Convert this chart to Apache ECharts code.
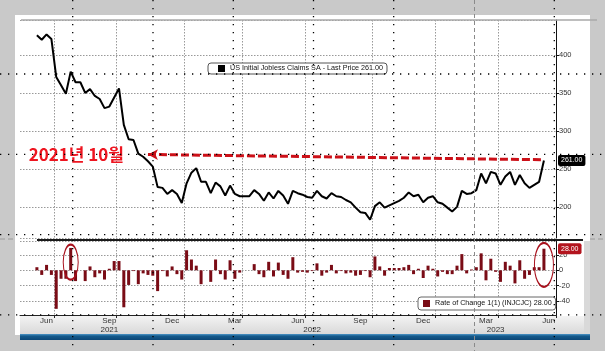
<!DOCTYPE html>
<html>
<head>
<meta charset="utf-8">
<script src="https://cdn.jsdelivr.net/npm/echarts@6/dist/echarts.min.js"></script>
<style>
  html, body { margin: 0; padding: 0; background: #c9c9c9; }
  #wrap { position: relative; width: 605px; height: 351px; }
  #panel { position: absolute; left: 15px; top: 15px; width: 575px; height: 320px; background: #fff; }
  #main { position: absolute; left: 0; top: 0; width: 605px; height: 351px; }
</style>
</head>
<body>
<div id="wrap">
  <div id="panel"></div>
  <div id="main"></div>
</div>
<script>
// US initial jobless claims SA (thousands), weekly, week ending 2021-05-29 .. 2023-06-03
const claims = [426, 420, 427, 421, 371, 360, 349, 378, 364, 364,
  350, 355, 346, 342, 330, 332, 344, 356, 308, 289,
  288, 270, 266, 260, 253, 226, 225, 217, 222, 217,
  205, 231, 245, 251, 233, 233, 218, 232, 227, 215,
  228, 217, 214, 214, 214, 222, 217, 208, 219, 211,
  221, 215, 204, 221, 218, 216, 213, 212, 221, 214,
  211, 218, 214, 213, 209, 206, 199, 193, 192, 183,
  201, 206, 199, 202, 205, 208, 212, 219, 214, 216,
  206, 212, 214, 206, 204, 199, 194, 200, 221, 217,
  218, 222, 244, 231, 246, 244, 229, 240, 246, 229,
  242, 231, 225, 229, 233, 261];

// Rate of Change 1(1): week-over-week change, same weeks
const weeklyChange = [4, -6, 7, -6, -50, -11, -11, 29, -14, 0,
  -14, 5, -9, -4, -12, 2, 12, 12, -48, -19,
  -1, -18, -4, -6, -7, -27, -1, -8, 5, -5,
  -12, 26, 14, 6, -18, 0, -15, 14, -5, -12,
  13, -11, -3, 0, 0, 8, -5, -9, 11, -8,
  10, -6, -11, 17, -3, -2, -3, -1, 9, -7,
  -3, 7, -4, -1, -4, -3, -7, -6, -1, -9,
  18, 5, -7, 3, 3, 3, 4, 7, -5, 2,
  -10, 6, 2, -8, -2, -5, -5, 6, 21, -4,
  1, 4, 22, -13, 15, -2, -15, 11, 6, -17,
  13, -11, -6, 4, 4, 28];

const monthLabelDates = ['2021-06-12', '2021-09-11', '2021-12-11', '2022-03-12', '2022-06-11',
  '2022-09-10', '2022-12-10', '2023-03-11', '2023-06-10'];
const monthLabels = ['Jun', 'Sep', 'Dec', 'Mar', 'Jun', 'Sep', 'Dec', 'Mar', 'Jun'];
const yearLabelDates = ['2021-09-11', '2022-07-02', '2023-03-25'];
const yearLabels = ['2021', '2022', '2023'];
const quarterLines = ['2021-06-26', '2021-09-25', '2022-01-01', '2022-03-26', '2022-06-25',
  '2022-10-01', '2022-12-31', '2023-04-01'];

// weekly category axis, with a few empty weeks on each side like the terminal chart
const weeks = [];
const firstWeek = Date.UTC(2021, 4, 8);
for (let i = 0; i < 111; i++) {
  weeks.push(new Date(firstWeek + i * 7 * 864e5).toISOString().slice(0, 10));
}
const pad = arr => [null, null, null].concat(arr, [null, null]);
const isIn = list => (i, v) => list.indexOf(v) >= 0;
const labelDates = monthLabelDates.concat(yearLabelDates);
const dateLabel = v => {
  const m = monthLabelDates.indexOf(v), y = yearLabelDates.indexOf(v);
  return (m >= 0 ? monthLabels[m] : '') + (y >= 0 ? '\n' + yearLabels[y] : '');
};

const font = 'Liberation Sans, Arial, sans-serif';
const dotted = () => ({ color: '#999', width: 1, type: [1.5, 1.5] });

// decoration lines of the screenshot (slide guides)
const guideX = [72.7, 153, 233.3, 313.5, 393.7, 554.3];
const guideY = [74, 154.3, 234.6, 314.9];
const guides = [];
guideX.forEach(x => guides.push({ type: 'line', z: 50, silent: true,
  shape: { x1: x, y1: 0, x2: x, y2: 351 }, style: { stroke: '#000', lineWidth: 1.3, lineDash: [1.3, 6.7] } }));
guideY.forEach(y => guides.push({ type: 'line', z: 50, silent: true,
  shape: { x1: 0, y1: y, x2: 605, y2: y }, style: { stroke: '#000', lineWidth: 1.3, lineDash: [1.3, 6.7] } }));

const yTick = { show: true, length: 3, lineStyle: { color: '#111' } };
const yLabel = { margin: 3, fontSize: 7.5, color: '#333', fontFamily: font, showMinLabel: false, showMaxLabel: false };
const pointer = (v, bg) => ({
  show: true, status: 'show', value: v, triggerTooltip: false,
  lineStyle: { opacity: 0 },
  label: { show: true, precision: 2, backgroundColor: bg, color: '#fff', fontSize: 7, fontFamily: font,
    padding: [2, 3], borderRadius: 2, margin: 2 }
});

const chart = echarts.init(document.getElementById('main'));

chart.setOption({
  animation: false,
  backgroundColor: 'transparent',
  graphic: [
    { type: 'line', z: -15, silent: true, shape: { x1: 0, y1: 239, x2: 15, y2: 239 },
      style: { stroke: '#9a9a9a', lineWidth: 1, lineDash: [5, 3] } },
    { type: 'line', z: -15, silent: true, shape: { x1: 590, y1: 239, x2: 605, y2: 239 },
      style: { stroke: '#9a9a9a', lineWidth: 1, lineDash: [5, 3] } },
    { type: 'rect', z: -9, silent: true, shape: { x: 20, y: 316, width: 570, height: 18 },
      style: { fill: new echarts.graphic.LinearGradient(0, 0, 0, 1, [
        { offset: 0, color: '#f3f3f3' }, { offset: 1, color: '#d9d9d9' }]) } },
    { type: 'rect', z: -9, silent: true, shape: { x: 584, y: 241, width: 6, height: 93 }, style: { fill: '#d9d9d9' } },
    { type: 'rect', z: -9, silent: true, shape: { x: 20, y: 334, width: 570, height: 6 },
      style: { fill: new echarts.graphic.LinearGradient(0, 0, 0, 1, [
        { offset: 0, color: '#4d95c6' }, { offset: 0.35, color: '#145a8c' }, { offset: 1, color: '#0b4676' }]) } },
    { type: 'line', z: 5, silent: true, shape: { x1: 21, y1: 20, x2: 597, y2: 20 },
      style: { stroke: '#a8a8a8', lineWidth: 1.5 } },
    { type: 'line', z: 5, silent: true, shape: { x1: 37, y1: 240, x2: 583, y2: 240 },
      style: { stroke: '#1a1a1a', lineWidth: 2 } },
    { type: 'line', z: 50, silent: true, shape: { x1: 474.5, y1: 0, x2: 474.5, y2: 351 },
      style: { stroke: '#8a8a8a', lineWidth: 1, lineDash: [4, 3] } }
  ].concat(guides),
  legend: [
    {
      data: ['US Initial Jobless Claims SA'],
      left: 208, top: 63,
      padding: [2, 4, 2, 10],
      itemWidth: 7, itemHeight: 7, icon: 'rect',
      borderColor: '#555', borderWidth: 1, borderRadius: 3,
      backgroundColor: '#fff',
      selectedMode: false,
      formatter: n => n + ' - Last Price 261.00',
      textStyle: { fontSize: 7.2, color: '#111', fontFamily: font }
    },
    {
      data: ['Rate of Change 1(1) (INJCJC)'],
      left: 418, top: 297,
      padding: [3, 4, 3, 5],
      itemWidth: 7, itemHeight: 7, icon: 'rect',
      borderColor: '#666', borderWidth: 1, borderRadius: 3,
      backgroundColor: '#fff',
      selectedMode: false,
      formatter: n => n + ' 28.00',
      textStyle: { fontSize: 7.2, color: '#111', fontFamily: font }
    }
  ],
  grid: [
    { left: 20, top: 20, width: 536, height: 218 },
    { left: 20, top: 241, width: 536, height: 74 }
  ],
  xAxis: [
    {
      type: 'category', gridIndex: 0, data: weeks, boundaryGap: true,
      axisLine: { show: false, onZero: false }, axisTick: { show: false }, axisLabel: { show: false },
      splitLine: { show: true, interval: isIn(quarterLines), lineStyle: dotted() }
    },
    {
      type: 'category', gridIndex: 1, data: weeks, boundaryGap: true,
      axisLine: { show: true, onZero: false, lineStyle: { color: '#222', width: 1 } },
      axisTick: { show: true, interval: isIn(quarterLines), length: 3, lineStyle: { color: '#222' } },
      axisLabel: { interval: isIn(labelDates), margin: 2, fontSize: 8, lineHeight: 8.5, color: '#333',
        fontFamily: font, formatter: dateLabel },
      splitLine: { show: true, interval: isIn(quarterLines), lineStyle: dotted() }
    }
  ],
  yAxis: [
    {
      type: 'value', gridIndex: 0, position: 'right', min: 159, max: 446,
      axisLine: { show: true, lineStyle: { color: '#111' } },
      axisTick: yTick, axisLabel: yLabel,
      splitLine: { show: true, lineStyle: dotted() },
      axisPointer: pointer(261, '#000')
    },
    {
      type: 'value', gridIndex: 1, position: 'right', min: -58, max: 38,
      axisLine: { show: true, lineStyle: { color: '#111' } },
      axisTick: yTick, axisLabel: yLabel,
      splitLine: { show: true, lineStyle: dotted() },
      axisPointer: pointer(28, '#b3141e')
    }
  ],
  series: [
    {
      name: 'US Initial Jobless Claims SA',
      type: 'line', xAxisIndex: 0, yAxisIndex: 0,
      data: pad(claims),
      symbol: 'none', color: '#000',
      lineStyle: { color: '#000', width: 2 },
      z: 3,
      markLine: {
        silent: true, animation: false,
        symbol: ['arrow', 'none'], symbolSize: [8, 10],
        lineStyle: { color: '#cc1018', width: 3, type: [8, 3] },
        label: { show: true, position: 'start', distance: 24, formatter: '2021년 10월',
          color: '#ee1520', fontSize: 17, fontWeight: 'bold', fontFamily: 'Noto Sans CJK KR' },
        data: [[{ coord: ['2021-11-06', 269] }, { coord: ['2023-06-03', 262] }]]
      }
    },
    {
      name: 'Rate of Change 1(1) (INJCJC)',
      type: 'bar', xAxisIndex: 1, yAxisIndex: 1,
      data: pad(weeklyChange),
      barWidth: 3, color: '#7a0c16',
      itemStyle: { color: '#7a0c16' },
      markPoint: {
        silent: true, symbol: 'circle',
        itemStyle: { color: 'rgba(0,0,0,0)', borderColor: '#a8101c', borderWidth: 1.5 },
        label: { show: false },
        data: [
          { coord: ['2021-07-17', 10.5], symbolSize: [15, 35] },
          { coord: ['2023-06-03', 7], symbolSize: [19, 44] }
        ]
      }
    }
  ]
});
</script>
</body>
</html>
